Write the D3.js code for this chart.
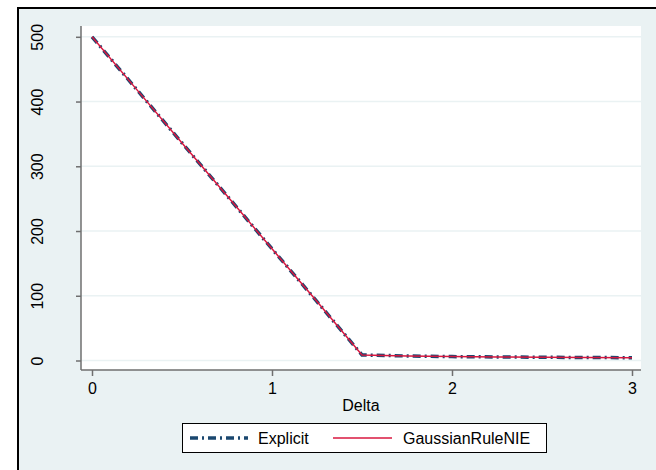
<!DOCTYPE html>
<html>
<head>
<meta charset="utf-8">
<script src="https://cdn.jsdelivr.net/npm/d3@7"></script>
<style>
  body { margin: 0; background: #ffffff; }
  text { font-family: "Liberation Sans", Arial, sans-serif; fill: #000; }
</style>
</head>
<body>
<div id="chart"></div>
<script>
// data
var delta = [0, 0.25, 0.5, 0.75, 1, 1.25, 1.5, 1.75, 2, 2.25, 2.5, 2.75, 3];
var explicitVals = [500, 418, 336, 254.5, 172.5, 91, 8.5, 7, 6, 5.5, 5, 4.6, 4.3];
var gaussianVals = [500, 418, 336, 254.5, 172.5, 91, 8.5, 7, 6, 5.5, 5, 4.6, 4.3];
var xTicks = [0, 1, 2, 3];
var yTicks = [0, 100, 200, 300, 400, 500];
var seriesNames = ["Explicit", "GaussianRuleNIE"];

var svgWidth = 656;
var svgHeight = 470;

// plot region
var plot = { left: 81, right: 641, top: 26, bottom: 370 };

var svg = d3.select("#chart")
    .append("svg")
    .attr("width", svgWidth)
    .attr("height", svgHeight);

// graph background and the frame (only top and left show in the crop)
svg.append("rect")
    .attr("x", 17).attr("y", 7)
    .attr("width", svgWidth - 17).attr("height", svgHeight - 7)
    .attr("fill", "#eaf2f3");
svg.append("line")
    .attr("x1", 17).attr("x2", svgWidth).attr("y1", 8).attr("y2", 8)
    .attr("stroke", "#000").attr("stroke-width", 2);
svg.append("line")
    .attr("x1", 18).attr("x2", 18).attr("y1", 7).attr("y2", svgHeight)
    .attr("stroke", "#000").attr("stroke-width", 2);

svg.append("rect")
    .attr("x", plot.left).attr("y", plot.top)
    .attr("width", plot.right - plot.left).attr("height", plot.bottom - plot.top)
    .attr("fill", "#ffffff");

//scales
var xScale = d3.scaleLinear().domain([0, 3]).range([92, 632]);
var yScale = d3.scaleLinear().domain([0, 500]).range([360.5, 36.8]);

//gridlines
svg.append("g")
    .selectAll("line")
    .data(yTicks)
    .enter()
    .append("line")
    .attr("x1", plot.left)
    .attr("x2", plot.right)
    .attr("y1", d => yScale(d))
    .attr("y2", d => yScale(d))
    .attr("stroke", "#eaf2f3")
    .attr("stroke-width", 1.6);

var axisColor = "#6f6f6f";

//x axis
var xAxis = svg.append("g")
    .attr("transform", `translate(0, ${plot.bottom})`)
    .call(d3.axisBottom(xScale).tickValues(xTicks).tickFormat(d3.format("d"))
        .tickSize(6).tickSizeOuter(0).tickPadding(7));
xAxis.select(".domain").remove();
xAxis.selectAll(".tick line").attr("stroke", axisColor).attr("stroke-width", 1.5);
xAxis.selectAll(".tick text").attr("font-size", "16px").attr("fill", "#000");

//y axis
var yAxis = svg.append("g")
    .attr("transform", `translate(${plot.left}, 0)`)
    .call(d3.axisLeft(yScale).tickValues(yTicks).tickFormat(d3.format("d"))
        .tickSize(5).tickSizeOuter(0));
yAxis.select(".domain").remove();
yAxis.selectAll(".tick line").attr("stroke", axisColor).attr("stroke-width", 1.5);
yAxis.selectAll(".tick text")
    .attr("font-size", "16px")
    .attr("fill", "#000")
    .attr("x", 0)
    .attr("dy", 0)
    .attr("text-anchor", "middle")
    .attr("transform", "translate(-38, 0) rotate(-90)");

//axis lines
svg.append("line")
    .attr("x1", plot.left).attr("x2", plot.right)
    .attr("y1", plot.bottom).attr("y2", plot.bottom)
    .attr("stroke", axisColor).attr("stroke-width", 1.5);
svg.append("line")
    .attr("x1", plot.left).attr("x2", plot.left)
    .attr("y1", plot.top).attr("y2", plot.bottom)
    .attr("stroke", axisColor).attr("stroke-width", 1.5);

//axis title
svg.append("text")
    .attr("x", (plot.left + plot.right) / 2)
    .attr("y", 411)
    .attr("text-anchor", "middle")
    .attr("font-size", "16px")
    .text("Delta");

//lines
var line = d3.line()
    .x(d => xScale(d[0]))
    .y(d => yScale(d[1]));

var navy = "#1a476f";
var red = "#d8173f";
var dash = "8,4,2,4";

svg.append("path")
    .datum(d3.zip(delta, explicitVals))
    .attr("d", line)
    .attr("fill", "none")
    .attr("stroke", navy)
    .attr("stroke-width", 3.5)
    .attr("stroke-dasharray", dash);

svg.append("path")
    .datum(d3.zip(delta, gaussianVals))
    .attr("d", line)
    .attr("fill", "none")
    .attr("stroke", red)
    .attr("stroke-width", 1.5);

//legend
var legend = svg.append("g");
legend.append("rect")
    .attr("x", 182.5).attr("y", 423.5)
    .attr("width", 364).attr("height", 29)
    .attr("fill", "#ffffff")
    .attr("stroke", "#000")
    .attr("stroke-width", 1);

legend.append("line")
    .attr("x1", 190).attr("x2", 248).attr("y1", 438).attr("y2", 438)
    .attr("stroke", navy).attr("stroke-width", 3.5).attr("stroke-dasharray", dash);
legend.append("text")
    .attr("x", 258).attr("y", 443.5)
    .attr("font-size", "16px")
    .text(seriesNames[0]);

legend.append("line")
    .attr("x1", 333).attr("x2", 392).attr("y1", 438).attr("y2", 438)
    .attr("stroke", red).attr("stroke-width", 1.5);
legend.append("text")
    .attr("x", 403).attr("y", 443.5)
    .attr("font-size", "16px")
    .text(seriesNames[1]);
</script>
</body>
</html>
